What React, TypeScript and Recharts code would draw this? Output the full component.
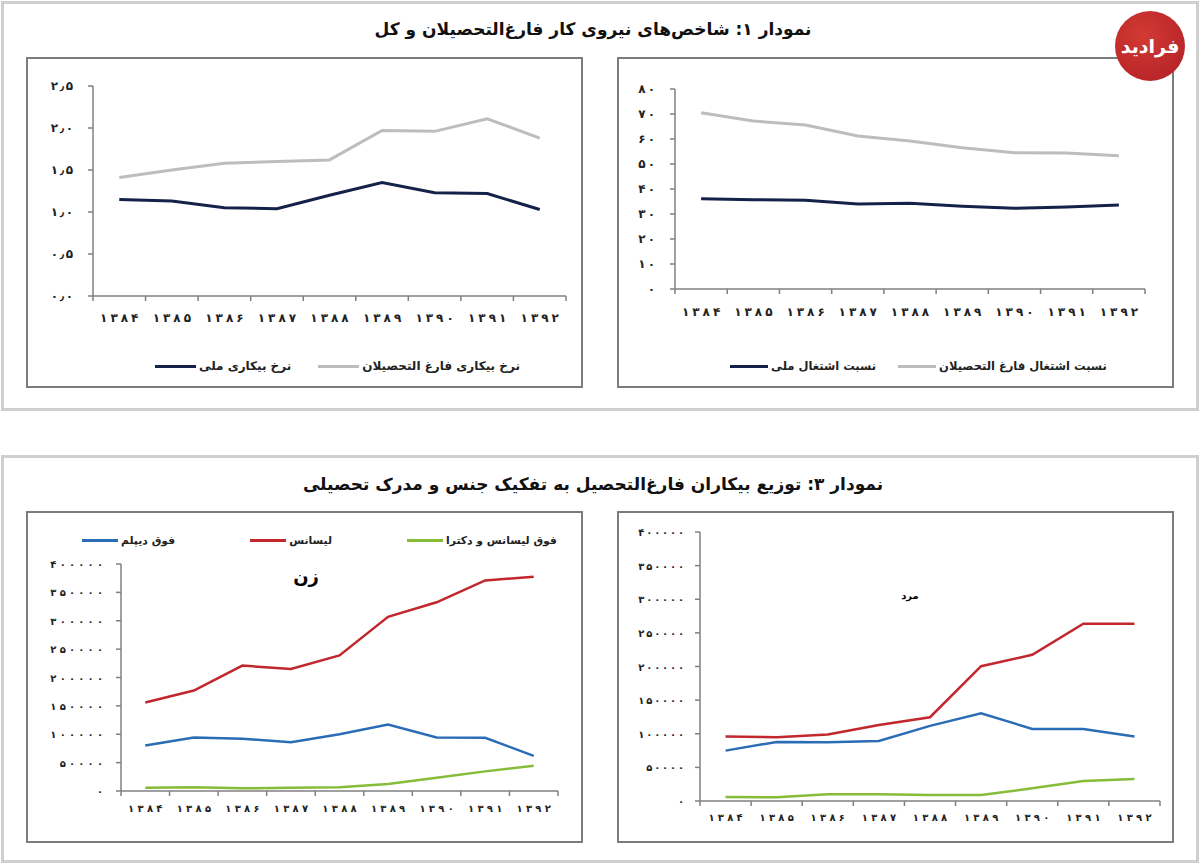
import React from 'react'
import { LineChart, Line, XAxis, YAxis, Legend } from 'recharts'

const FONT = "'DejaVu Sans', sans-serif"
const AXIS = '#808080'

const years = ['۱۳۸۴', '۱۳۸۵', '۱۳۸۶', '۱۳۸۷', '۱۳۸۸', '۱۳۸۹', '۱۳۹۰', '۱۳۹۱', '۱۳۹۲']

// نمودار ۱ (چپ): نرخ بیکاری
const unempNational = [1.15, 1.13, 1.05, 1.04, 1.2, 1.35, 1.23, 1.22, 1.03]
const unempGraduates = [1.41, 1.5, 1.58, 1.6, 1.62, 1.97, 1.96, 2.11, 1.88]
const rateTicks = [0, 0.5, 1, 1.5, 2, 2.5]

// نمودار ۱ (راست): نسبت اشتغال
const empNational = [36.1, 35.7, 35.5, 34.0, 34.3, 33.1, 32.3, 32.8, 33.6]
const empGraduates = [70.5, 67.2, 65.6, 61.2, 59.2, 56.5, 54.5, 54.4, 53.3]
const empTicks = [0, 10, 20, 30, 40, 50, 60, 70, 80]

// نمودار ۳: زن
const womenDiploma = [80000, 94400, 92000, 86000, 100000, 117000, 94400, 93800, 62000]
const womenBachelor = [156000, 177000, 221000, 215000, 239000, 307000, 332500, 371000, 377700]
const womenMaster = [5900, 6500, 4700, 5900, 6500, 12300, 23500, 34600, 44600]

// نمودار ۳: مرد
const menDiploma = [74900, 87800, 87300, 89300, 111700, 130500, 107200, 107200, 95800]
const menBachelor = [95800, 94800, 98800, 113000, 124600, 200500, 217400, 263500, 263500]
const menMaster = [6000, 5500, 9900, 9900, 8900, 8900, 18900, 29800, 32800]
const countTicks = [0, 50000, 100000, 150000, 200000, 250000, 300000, 350000, 400000]

const toFa = (s: string) => s.replace(/\d/g, (d) => '۰۱۲۳۴۵۶۷۸۹'[+d])

// tick marks at category edges, labels at category centres
const xTicks = Array.from({ length: years.length * 2 + 1 }, (_, i) => i / 2)

function buildRows(series: number[][]) {
  return years.map((y, i) => {
    const row: Record<string, number | string> = { pos: i + 0.5, year: y }
    series.forEach((s, k) => (row['s' + k] = s[i]))
    return row
  })
}

// digits drawn one by one so they can be spread like the Excel export
function SpacedText({ x, y, text, anchor, fontSize, spacing }: any) {
  return (
    <text
      x={x}
      y={y}
      textAnchor={anchor}
      dominantBaseline="central"
      fontSize={fontSize}
      fontWeight="bold"
      fill="#222"
      fontFamily={FONT}
      direction="ltr"
    >
      {Array.from(text as string).map((c, i) => (
        <tspan key={i} dx={i === 0 ? 0 : spacing}>
          {c}
        </tspan>
      ))}
    </text>
  )
}

function XTick(props: any) {
  const { x, y, payload, labelDy, fontSize, spacing } = props
  const v = payload.value
  if (Number.isInteger(v)) {
    return <line x1={x} x2={x} y1={y} y2={y + 5} stroke={AXIS} strokeWidth={1.5} />
  }
  return (
    <SpacedText
      x={x}
      y={y + labelDy}
      text={years[Math.floor(v)]}
      anchor="middle"
      fontSize={fontSize}
      spacing={spacing}
    />
  )
}

function YTick(props: any) {
  const { x, y, payload, fmt, fontSize, spacing } = props
  return <SpacedText x={x} y={y} text={fmt(payload.value)} anchor="end" fontSize={fontSize} spacing={spacing} />
}

interface Series {
  name: string
  color: string
  values: number[]
}

interface PanelProps {
  left: number
  top: number
  width: number
  height: number
  margin: { top: number; right: number; bottom: number; left: number }
  series: Series[]
  yTicks: number[]
  yFmt: (v: number) => string
  yWidth: number
  yTickMargin: number
  ySpacing: number
  xLabelDy: number
  xAxisHeight: number
  xSpacing: number
  fontSize: number
  strokeWidth: number
  legend?: 'top' | 'bottom'
  legendPad?: number
  legendGap?: number
  legendLine?: number
  legendFont?: number
}

function Panel(p: PanelProps) {
  const rows = buildRows(p.series.map((s) => s.values))
  const legendH = p.legend === 'top' ? 39 : 30

  const renderLegend = (lp: any) => {
    const entries = p.series.map(
      (s) => (lp.payload || []).find((e: any) => e.value === s.name) || { value: s.name, color: s.color }
    )
    return (
      <div
        style={{
          height: legendH,
          display: 'flex',
          alignItems: p.legend === 'top' ? 'flex-start' : 'center',
          paddingLeft: p.legendPad,
          fontFamily: FONT,
          fontWeight: 'bold',
          fontSize: p.legendFont,
          color: '#222',
          boxSizing: 'border-box',
        }}
      >
        {entries.map((e: any, i: number) => (
          <div key={i} style={{ display: 'flex', alignItems: 'center', height: 30, marginRight: p.legendGap }}>
            <span style={{ width: p.legendLine, height: 3, background: e.color, display: 'inline-block' }} />
            <span style={{ marginLeft: 3, direction: 'rtl', whiteSpace: 'nowrap' }}>{e.value}</span>
          </div>
        ))}
      </div>
    )
  }

  return (
    <div style={{ position: 'absolute', left: p.left, top: p.top, width: p.width, height: p.height }}>
      <div
        style={{
          position: 'absolute',
          inset: 0,
          border: '2px solid #7c7c7c',
          boxSizing: 'border-box',
          background: '#fff',
        }}
      />
      <div style={{ position: 'absolute', left: 0, top: 0 }}>
        <LineChart width={p.width} height={p.height} data={rows} margin={p.margin}>
          <XAxis
            dataKey="pos"
            type="number"
            domain={[0, years.length]}
            ticks={xTicks}
            interval={0}
            tickLine={false}
            tickSize={0}
            tickMargin={0}
            height={p.xAxisHeight}
            axisLine={{ stroke: AXIS, strokeWidth: 1.5 }}
            tick={<XTick labelDy={p.xLabelDy} fontSize={p.fontSize} spacing={p.xSpacing} />}
          />
          <YAxis
            type="number"
            domain={[p.yTicks[0], p.yTicks[p.yTicks.length - 1]]}
            ticks={p.yTicks}
            interval={0}
            width={p.yWidth}
            tickSize={5}
            tickMargin={p.yTickMargin}
            axisLine={{ stroke: AXIS, strokeWidth: 1.5 }}
            tickLine={{ stroke: AXIS, strokeWidth: 1.5 }}
            tick={<YTick fmt={p.yFmt} fontSize={p.fontSize} spacing={p.ySpacing} />}
          />
          {p.legend && (
            <Legend
              verticalAlign={p.legend}
              height={legendH}
              wrapperStyle={{ left: 0, width: p.width }}
              content={renderLegend}
            />
          )}
          {p.series.map((s, k) => (
            <Line
              key={k}
              type="linear"
              dataKey={'s' + k}
              name={s.name}
              stroke={s.color}
              strokeWidth={p.strokeWidth}
              dot={false}
              activeDot={false}
              isAnimationActive={false}
            />
          ))}
        </LineChart>
      </div>
    </div>
  )
}

const rateFmt = (v: number) => toFa(v.toFixed(1)).replace('.', '٫')
const intFmt = (v: number) => toFa(String(v))

const NAVY = '#14224a'
const GRAY = '#bdbdbd'
const BLUE = '#2a6cb5'
const RED = '#c1272d'
const GREEN = '#86bc38'

const titleStyle: React.CSSProperties = {
  position: 'absolute',
  left: 0,
  width: 1186,
  textAlign: 'center',
  direction: 'rtl',
  fontSize: 17,
  fontWeight: 'bold',
  color: '#111',
}

const panelFrame: React.CSSProperties = {
  position: 'absolute',
  left: 1,
  width: 1198,
  border: '3px solid #cfcfcf',
  boxSizing: 'border-box',
}

export default function App() {
  return (
    <div
      style={{
        position: 'absolute',
        left: 0,
        top: 0,
        width: 1200,
        height: 865,
        background: '#fff',
        fontFamily: FONT,
      }}
    >
      {/* top panel */}
      <div style={{ ...panelFrame, top: 1, height: 410 }} />
      <div style={{ ...titleStyle, top: 19 }}>نمودار ۱: شاخص‌های نیروی کار فارغ‌التحصیلان و کل</div>

      <Panel
        left={26}
        top={57}
        width={557}
        height={331}
        margin={{ top: 29, right: 17, bottom: 7, left: 27 }}
        series={[
          { name: 'نرخ بیکاری ملی', color: NAVY, values: unempNational },
          { name: 'نرخ بیکاری فارغ التحصیلان', color: GRAY, values: unempGraduates },
        ]}
        yTicks={rateTicks}
        yFmt={rateFmt}
        yWidth={40}
        yTickMargin={15}
        ySpacing={1.5}
        xLabelDy={22}
        xAxisHeight={55}
        xSpacing={3}
        fontSize={12}
        strokeWidth={3}
        legend="bottom"
        legendPad={129}
        legendGap={27}
        legendLine={41}
        legendFont={12}
      />

      <Panel
        left={617}
        top={57}
        width={557}
        height={331}
        margin={{ top: 32, right: 29, bottom: 7, left: 28 }}
        series={[
          { name: 'نسبت اشتغال ملی', color: NAVY, values: empNational },
          { name: 'نسبت اشتغال فارغ التحصیلان', color: GRAY, values: empGraduates },
        ]}
        yTicks={empTicks}
        yFmt={intFmt}
        yWidth={30}
        yTickMargin={15}
        ySpacing={2}
        xLabelDy={23}
        xAxisHeight={62}
        xSpacing={3}
        fontSize={12}
        strokeWidth={3}
        legend="bottom"
        legendPad={113}
        legendGap={22}
        legendLine={38}
        legendFont={11.5}
      />

      {/* logo */}
      <div
        style={{
          position: 'absolute',
          left: 1115,
          top: 11,
          width: 70,
          height: 70,
          borderRadius: '50%',
          background: 'radial-gradient(circle at 40% 35%, #d23a33, #b01f26)',
          color: '#fff',
          display: 'flex',
          alignItems: 'center',
          justifyContent: 'center',
          fontSize: 19,
          fontWeight: 'bold',
          direction: 'rtl',
        }}
      >
        فرادید
      </div>

      {/* bottom panel */}
      <div style={{ ...panelFrame, top: 455, height: 408 }} />
      <div style={{ ...titleStyle, top: 474 }}>
        نمودار ۳: توزیع بیکاران فارغ‌التحصیل به تفکیک جنس و مدرک تحصیلی
      </div>

      <Panel
        left={26}
        top={511}
        width={557}
        height={332}
        margin={{ top: 14, right: 25, bottom: 12, left: 35 }}
        series={[
          { name: 'فوق دیپلم', color: BLUE, values: womenDiploma },
          { name: 'لیسانس', color: RED, values: womenBachelor },
          { name: 'فوق لیسانس و دکترا', color: GREEN, values: womenMaster },
        ]}
        yTicks={countTicks}
        yFmt={intFmt}
        yWidth={60}
        yTickMargin={13}
        ySpacing={3.2}
        xLabelDy={17}
        xAxisHeight={40}
        xSpacing={3.3}
        fontSize={10}
        strokeWidth={2.5}
        legend="top"
        legendPad={56}
        legendGap={75}
        legendLine={36}
        legendFont={10.8}
      />
      <div
        style={{
          position: 'absolute',
          left: 266,
          top: 566,
          width: 80,
          textAlign: 'center',
          fontSize: 18,
          fontWeight: 'bold',
          direction: 'rtl',
        }}
      >
        زن
      </div>

      <Panel
        left={617}
        top={511}
        width={557}
        height={332}
        margin={{ top: 21, right: 14, bottom: 12, left: 18 }}
        series={[
          { name: 'فوق دیپلم', color: BLUE, values: menDiploma },
          { name: 'لیسانس', color: RED, values: menBachelor },
          { name: 'فوق لیسانس و دکترا', color: GREEN, values: menMaster },
        ]}
        yTicks={countTicks}
        yFmt={intFmt}
        yWidth={65}
        yTickMargin={11}
        ySpacing={1.8}
        xLabelDy={16}
        xAxisHeight={30}
        xSpacing={3.3}
        fontSize={10}
        strokeWidth={2.5}
      />
      <div
        style={{
          position: 'absolute',
          left: 880,
          top: 590,
          width: 60,
          textAlign: 'center',
          fontSize: 10,
          fontWeight: 'bold',
          direction: 'rtl',
        }}
      >
        مرد
      </div>
    </div>
  )
}
